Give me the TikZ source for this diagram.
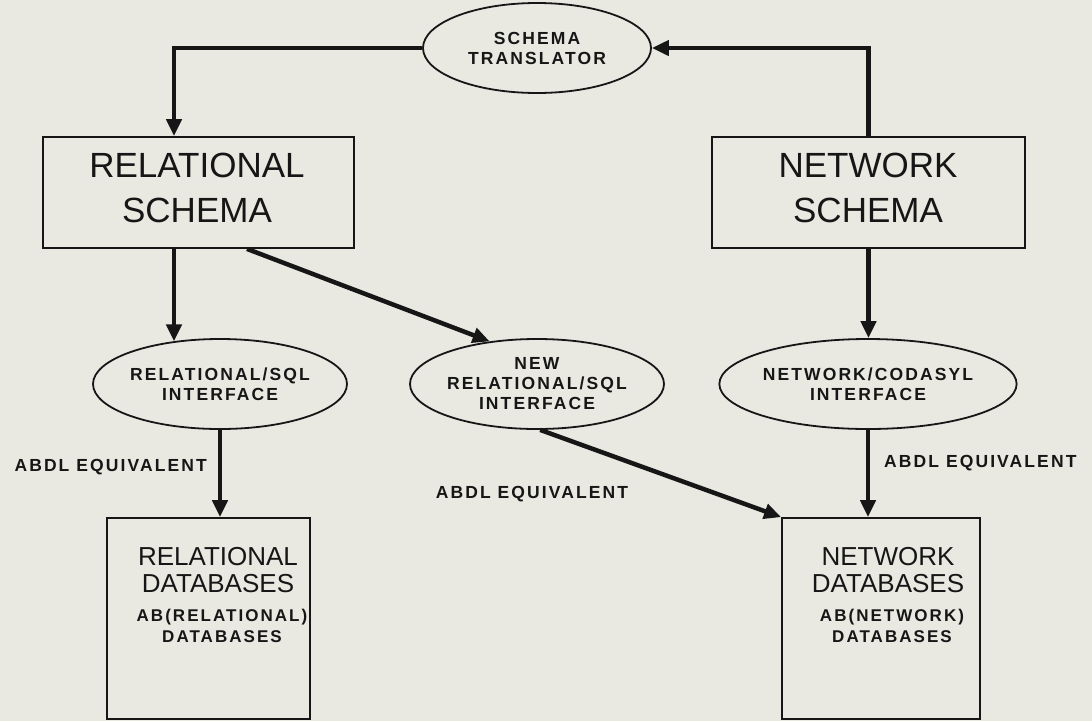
\documentclass[tikz,border=0pt]{standalone}
\usepackage{fontspec}
\setmainfont{Liberation Sans}
\newfontfamily\lblfont[LetterSpace=12,UprightFont={Liberation Sans Bold},BoldFont={Liberation Sans Bold}]{Liberation Sans}
\usetikzlibrary{arrows.meta,shapes.geometric}
\definecolor{paper}{RGB}{233,233,226}
\definecolor{inkc}{RGB}{22,22,22}
\tikzset{
  ink/.style={draw=inkc, line width=1.8pt},
  schemabox/.style={ink, rectangle, inner sep=0pt},
  schematext/.style={inner sep=0pt, align=center, text=inkc,
    font=\fontsize{35}{45}\selectfont},
  dbbox/.style={ink, rectangle, inner sep=0pt},
  iface/.style={ink, ellipse, inner sep=0pt, align=center, text=inkc,
    font=\lblfont\fontsize{17.5}{20}\selectfont},
  dbtitle/.style={inner sep=0pt, align=center, text=inkc,
    font=\fontsize{26}{27}\selectfont},
  dbsub/.style={inner sep=0pt, align=center, text=inkc,
    font=\lblfont\fontsize{17}{21}\selectfont},
  tag/.style={inner sep=0pt, text=inkc,
    font=\lblfont\fontsize{17.5}{20}\selectfont},
  flow/.style={draw=inkc, line width=4.5pt, -{Triangle[width=15pt,length=17pt]}}
}
\begin{document}
\begin{tikzpicture}[x=1pt, y=-1pt]
  \fill[paper] (0,0) rectangle (1092,721);
  \useasboundingbox (0,0) rectangle (1092,721);

  % translator at the top
  \node[iface, minimum width=228pt, minimum height=90pt] (st) at (537,48)
    {SCHEMA\\TRANSLATOR};

  % schema boxes
  \node[schemabox, minimum width=311pt, minimum height=111pt] (rs) at (198.5,192.5) {};
  \node[schemabox, minimum width=313pt, minimum height=111pt] (ns) at (868.5,192.5) {};
  \node[schematext] (rst) at (197,187.5) {RELATIONAL\\SCHEMA};
  \node[schematext] (nst) at (868,187.5) {NETWORK\\SCHEMA};

  % language interfaces
  \node[iface, minimum width=226pt, minimum height=90pt] (rsql) at (220,384)
    {RELATIONAL/SQL\\INTERFACE};
  \node[iface, minimum width=228pt, minimum height=90pt] (nsql) at (537,384)
    {NEW\\RELATIONAL/SQL\\INTERFACE};
  \node[iface, minimum width=220pt, minimum height=90pt] (ncod) at (868,384)
    {NETWORK/CODASYL\\INTERFACE};

  % database boxes
  \node[dbbox, minimum width=203pt, minimum height=201pt] (rdb) at (208.5,618.5) {};
  \node[dbbox, minimum width=198pt, minimum height=201pt] (ndb) at (881,618.5) {};
  \node[dbtitle] (rdbt) at (218,570) {RELATIONAL\\DATABASES};
  \node[dbsub] (rdbs) at (222,625.5) {AB(RELATIONAL)\\DATABASES};
  \node[dbtitle] (ndbt) at (888,570) {NETWORK\\DATABASES};
  \node[dbsub] (ndbs) at (892,625.5) {AB(NETWORK)\\DATABASES};

  % connectors
  \draw[flow] (st.west) -| ([xshift=-24.5pt]rs.north);
  \draw[flow] (ns.north) |- (st.east);
  \draw[flow] ([xshift=-24.5pt]rs.south) -- ([xshift=-24.5pt]rs.south |- rsql.138);
  \draw[flow] ([xshift=48.5pt]rs.south) -- (nsql.138);
  \draw[flow] (ns.south) -- (ns.south |- ncod.north);
  \draw[flow] (rsql.south) -- (rsql.south |- rdb.north);
  \draw[flow] (nsql.-86) -- (ndb.north west);
  \draw[flow] (ncod.south) -- (ncod.south |- ndb.north);

  % connector labels
  \node[tag, anchor=east] (lab1) at (207,467) {ABDL EQUIVALENT};
  \node[tag] (lab2) at (532,494) {ABDL EQUIVALENT};
  \node[tag, anchor=west] (lab3) at (884,463) {ABDL EQUIVALENT};
\end{tikzpicture}
\end{document}
